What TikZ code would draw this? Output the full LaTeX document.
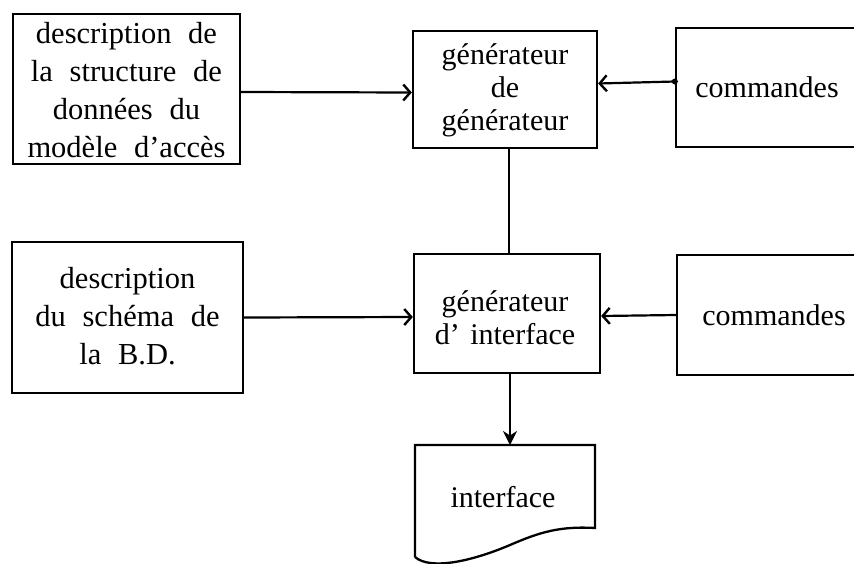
\documentclass[tikz,border=0pt]{standalone}
\usepackage{fontspec}
\setmainfont{Liberation Serif}
\usetikzlibrary{arrows.meta}
\newcommand{\widesp}[1]{\spaceskip=#1em plus 0.1em\relax}
\begin{document}
\begin{tikzpicture}[x=1pt,y=-1pt,
  box/.style={draw, line width=2.3pt, rectangle, inner sep=0pt, align=center},
  txt/.style={inner sep=0pt, align=center, font=\fontsize{30}{33}\selectfont, execute at begin node={\widesp{0.35}}},
  txtw/.style={inner sep=0pt, align=center, font=\fontsize{30.5}{38}\selectfont, execute at begin node={\widesp{0.55}}},
  conn/.style={line width=2.2pt},
  arr/.style={conn, -{Straight Barb[length=7pt,width=16pt,line width=2.4pt]}},
  arrf/.style={conn, -{Stealth[length=14pt,width=14pt]}}]
\useasboundingbox (0,0) rectangle (854,563);
\clip (0,0) rectangle (854,563);
\fill[white] (0,0) rectangle (854,563);

% left boxes
\node[box, minimum width=227pt, minimum height=150pt] (tl) at (126.5,89) {};
\node[txtw] (tltext) at (126.5,90) {description de\\la structure de\\données du\\modèle d’accès};
\node[box, minimum width=231pt, minimum height=151pt] (ml) at (127.5,317.5) {};
\node[txtw] (mltext) at (127.5,316) {description\\du schéma de\\la B.D.};

% middle boxes
\node[box, minimum width=184pt, minimum height=117pt] (tm) at (505,89.5) {};
\node[txt] (tmtext) at (505,90) {générateur\\de\\générateur};
\node[box, minimum width=186pt, minimum height=119pt] (mm) at (507,313.5) {};
\node[txt] (mmtext) at (505,318) {générateur\\d’ interface};

% right boxes (cut by the right edge)
\node[box, minimum width=224pt, minimum height=119pt] (c1) at (788,87.5) {};
\node[txt] (c1text) at (767,87) {commandes};
\node[box, minimum width=224pt, minimum height=120pt] (c2) at (789,315) {};
\node[txt] (c2text) at (774,315) {commandes};

% document shape
\coordinate (doctop) at (510,445);
\draw[line width=2.3pt] (415,557) -- (415,445) -- (595,445) -- (595,528)
  .. controls (560,526) and (540,532) .. (510,545)
  .. controls (470,562) and (430,570) .. (415,557);
\node[txt] (doc) at (503,497) {interface};

% connectors
\draw[arr] ([yshift=-3pt]tl.east) -- ([yshift=-3pt]tm.west);
\draw[arr] ([yshift=6pt]c1.west) -- ([yshift=6pt]tm.east);
\fill ([yshift=6pt]c1.west) circle (3pt);
\draw[arr] (ml.east) -- ([yshift=-3.5pt]mm.west);
\draw[arr] (c2.west) -- ([yshift=-2.5pt]mm.east);
\draw[conn] ([xshift=4pt]tm.south) -- ([xshift=2pt]mm.north);
\draw[arrf] ([xshift=3pt]mm.south) -- (doctop);
\end{tikzpicture}
\end{document}
